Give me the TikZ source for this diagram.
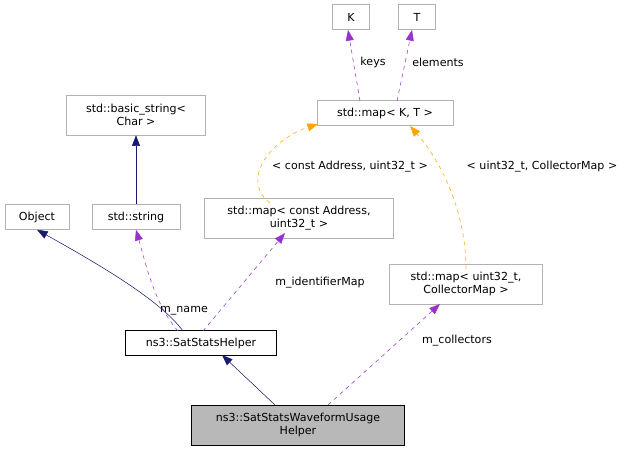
\documentclass[tikz,border=0pt]{standalone}
\usepackage{fontspec}
\setmainfont{DejaVu Sans}
\usetikzlibrary{arrows.meta}
\definecolor{navy}{RGB}{25,25,112}
\definecolor{purp}{RGB}{153,50,204}
\definecolor{orng}{RGB}{255,165,0}
\begin{document}
\begin{tikzpicture}[x=0.75pt,y=-0.75pt,
    box/.style={draw=black!30,rectangle,inner sep=1pt,align=center,font=\fontsize{8.3}{9.5}\selectfont},
    lbl/.style={font=\fontsize{8.3}{9.5}\selectfont,inner sep=1pt},
    inh/.style={draw=navy,-{Triangle[width=6pt,length=8pt]}},
    use/.style={draw=purp,dashed,-{Triangle[width=6pt,length=8pt]}},
    tpl/.style={draw=orng,dashed,-{Triangle[width=6pt,length=8pt]}}]
    \useasboundingbox (0,0) rectangle (637,452);
            \node[box,minimum width=27.75pt,minimum height=18.75pt] (K) at (351,17) {K};
            \node[box,minimum width=27.75pt,minimum height=18.75pt] (T) at (417,17) {T};
            \node[box,minimum width=102pt,minimum height=18.75pt] (mapKT) at (385,113) {std::map< K, T >};
            \node[box,minimum width=104pt,minimum height=30pt] (bstr) at (136,115) {std::basic\_string<\\Char >};
            \node[box,minimum width=48pt,minimum height=18.75pt] (obj) at (37,217) {Object};
            \node[box,minimum width=66pt,minimum height=18.75pt] (str) at (136,217) {std::string};
            \node[box,minimum width=142pt,minimum height=30pt] (mapAddr) at (299,218) {std::map< const Address,\\uint32\_t >};
            \node[box,minimum width=115pt,minimum height=30pt] (mapColl) at (466,284) {std::map< uint32\_t,\\CollectorMap >};
            \node[box,draw=black,minimum width=113pt,minimum height=18.75pt] (helper) at (201,343) {ns3::SatStatsHelper};
            \node[box,draw=black,fill=black!28,minimum width=160pt,minimum height=30pt] (wave) at (298,425) {ns3::SatStatsWaveformUsage\\Helper};

            \node[lbl] (lkeys) at (373,62) {keys};
            \node[lbl] (lelem) at (438,62) {elements};
            \node[lbl] (laddr) at (350,167) {< const Address, uint32\_t >};
            \node[lbl] (lcoll) at (542,167) {< uint32\_t, CollectorMap >};
            \node[lbl] (lname) at (184,311) {m\_name};
            \node[lbl] (lid) at (320,283) {m\_identifierMap};
            \node[lbl] (lcol) at (457,341) {m\_collectors};

            \draw[inh] (str) -- (bstr);
            \draw[inh] (183,331) .. controls (160,300) and (100,265) .. (obj.south);
            \draw[inh] (275,405) -- (222,355);
            \draw[use] (178,331) .. controls (155,305) and (146,265) .. (str.south);
            \draw[use] (203,331) -- (285,233);
            \draw[use] (328,405) -- (440,304);
            \draw[use] (360,101) -- (348,30);
            \draw[use] (397,101) -- (412,30);
            \draw[tpl] (270,203) .. controls (240,180) and (270,140) .. (318,124);
            \draw[tpl] (466,269) .. controls (466,210) and (440,160) .. (410,126);
        \end{tikzpicture}
\end{document}
